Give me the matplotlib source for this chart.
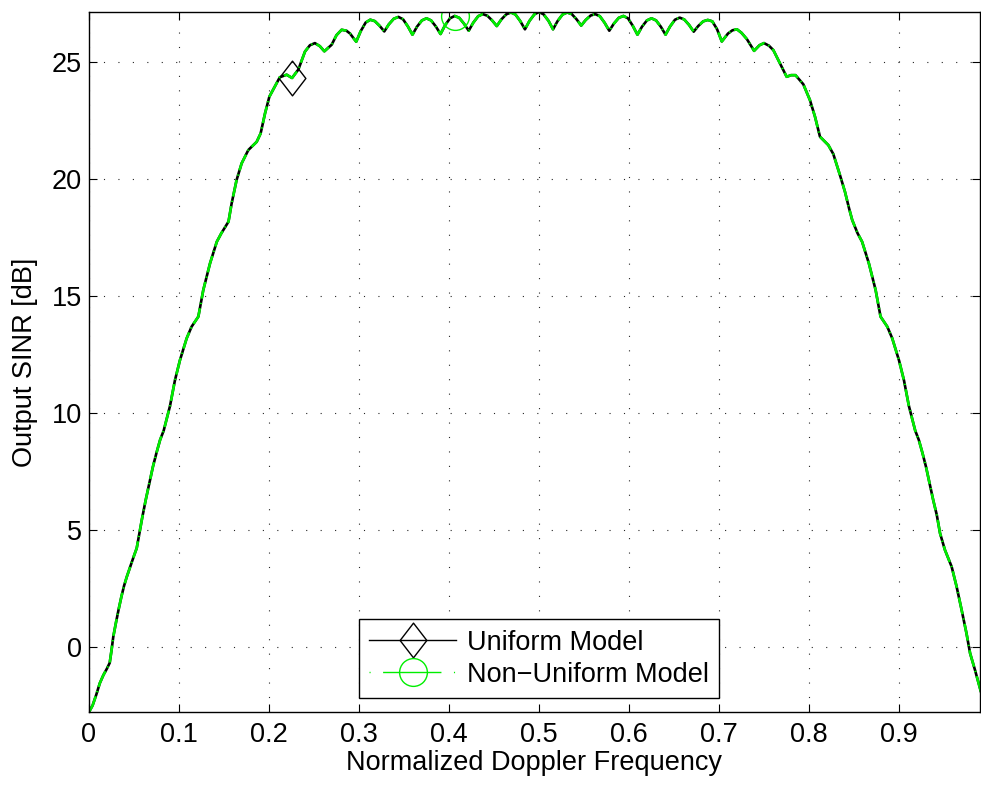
import numpy as np
import matplotlib
matplotlib.use('Agg')
import matplotlib.pyplot as plt
from matplotlib.path import Path

plt.rcParams['font.family'] = ['Liberation Sans', 'DejaVu Sans']

# Normalized Doppler frequency and output SINR [dB]
doppler = [
    0.000, 0.004, 0.008, 0.012, 0.016, 0.020, 0.023, 0.025, 0.027, 0.030,
    0.033, 0.036, 0.039, 0.042, 0.046, 0.050, 0.053, 0.056, 0.059, 0.063,
    0.067, 0.071, 0.075, 0.079, 0.083, 0.086, 0.090, 0.0955, 0.101, 0.1085,
    0.114, 0.1215, 0.127, 0.1345, 0.142, 0.147, 0.155, 0.1585, 0.164, 0.1696,
    0.177, 0.1863, 0.1907, 0.1956, 0.2004, 0.2050, 0.212, 0.2196, 0.2256, 0.2326,
    0.2400, 0.2455, 0.2510, 0.2565, 0.2615, 0.2696, 0.2750, 0.2807, 0.2860, 0.2900,
    0.2969, 0.3019, 0.3074, 0.3125, 0.3176, 0.3229, 0.3281, 0.3331, 0.3386, 0.3438,
    0.3489, 0.3542, 0.3594, 0.3644, 0.3699, 0.3750, 0.3801, 0.3854, 0.3906, 0.3956,
    0.4011, 0.4063, 0.4114, 0.4167, 0.4219, 0.4269, 0.4324, 0.4375, 0.4426, 0.4479,
    0.4531, 0.4581, 0.4636, 0.4688, 0.4739, 0.4792, 0.4844, 0.4894, 0.4949, 0.5000,
    0.5051, 0.5106, 0.5156, 0.5206, 0.5261, 0.5313, 0.5364, 0.5417, 0.5469, 0.5519,
    0.5574, 0.5625, 0.5676, 0.5729, 0.5781, 0.5831, 0.5886, 0.5938, 0.5989, 0.6042,
    0.6094, 0.6144, 0.6199, 0.6250, 0.6301, 0.6354, 0.6406, 0.6456, 0.6511, 0.6563,
    0.6614, 0.6667, 0.6719, 0.6769, 0.6824, 0.6875, 0.6926, 0.6979, 0.7031, 0.7100,
    0.7150, 0.7200, 0.7250, 0.7310, 0.7390, 0.7450, 0.7500, 0.7555, 0.7604, 0.7678,
    0.7752, 0.7800, 0.7850, 0.7937, 0.8010, 0.8067, 0.8122, 0.8215, 0.8270, 0.8344,
    0.8400, 0.8445, 0.8480, 0.8540, 0.8590, 0.8665, 0.8740, 0.8795, 0.8870, 0.8925,
    0.9000, 0.9055, 0.9110, 0.9150, 0.9180, 0.9220, 0.9260, 0.9300, 0.9340, 0.9380,
    0.9420, 0.9456, 0.9510, 0.9585, 0.9640, 0.9696, 0.9750, 0.9790, 0.9844, 0.9910,
]
sinr_uniform = [
    -2.78, -2.50, -2.05, -1.55, -1.20, -0.92, -0.68, -0.15, 0.44, 1.05,
    1.62, 2.15, 2.62, 3.00, 3.45, 3.90, 4.22, 4.85, 5.50, 6.28,
    7.00, 7.70, 8.30, 8.85, 9.25, 9.70, 10.30, 11.40, 12.25, 13.19,
    13.69, 14.12, 15.26, 16.40, 17.32, 17.68, 18.18, 18.96, 19.96, 20.67,
    21.24, 21.59, 21.95, 22.81, 23.52, 23.85, 24.35, 24.46, 24.32, 24.68,
    25.45, 25.72, 25.81, 25.68, 25.46, 25.74, 26.15, 26.38, 26.34, 26.22,
    25.87, 26.32, 26.69, 26.81, 26.75, 26.55, 26.31, 26.61, 26.85, 26.93,
    26.83, 26.53, 26.17, 26.51, 26.78, 26.87, 26.78, 26.52, 26.20, 26.57,
    26.87, 26.97, 26.89, 26.64, 26.34, 26.68, 26.96, 27.05, 26.98, 26.78,
    26.54, 26.82, 27.04, 27.12, 27.03, 26.75, 26.40, 26.76, 27.04, 27.14,
    27.04, 26.76, 26.40, 26.75, 27.03, 27.12, 27.05, 26.83, 26.56, 26.80,
    26.99, 27.05, 26.96, 26.68, 26.34, 26.64, 26.89, 26.97, 26.87, 26.55,
    26.17, 26.51, 26.78, 26.87, 26.78, 26.51, 26.17, 26.52, 26.81, 26.90,
    26.82, 26.59, 26.30, 26.54, 26.74, 26.80, 26.74, 26.40, 25.88, 26.22,
    26.36, 26.40, 26.25, 25.98, 25.48, 25.72, 25.81, 25.70, 25.51, 24.94,
    24.37, 24.44, 24.44, 24.05, 23.38, 22.66, 21.81, 21.45, 21.07, 20.17,
    19.45, 18.75, 18.25, 17.68, 17.32, 16.40, 15.26, 14.12, 13.69, 13.19,
    12.25, 11.40, 10.30, 9.70, 9.25, 8.85, 8.30, 7.70, 7.00, 6.28,
    5.64, 4.86, 4.15, 3.43, 2.58, 1.58, 0.58, -0.27, -0.98, -1.91,
]
# the non-uniform model lies on top of the uniform one
sinr_nonuniform = list(sinr_uniform)

uniform_marker_at = 0.2256
nonuniform_marker_at = 0.4063

x_ticks = [0, 0.1, 0.2, 0.3, 0.4, 0.5, 0.6, 0.7, 0.8, 0.9]
x_tick_labels = ['0', '0.1', '0.2', '0.3', '0.4', '0.5', '0.6', '0.7', '0.8', '0.9']
y_ticks = [0, 5, 10, 15, 20, 25]

fs = 19.5

fig = plt.figure(figsize=(9.81, 7.89), dpi=100)
ax = fig.add_axes([89 / 981, 1 - 712 / 789, 891 / 981, 700 / 789])

doppler = np.array(doppler)
i_u = int(np.argmin(np.abs(doppler - uniform_marker_at)))
i_n = int(np.argmin(np.abs(doppler - nonuniform_marker_at)))

# tall diamond like MATLAB's
diamond = Path([(0, 1), (0.77, 0), (0, -1), (-0.77, 0), (0, 1)],
               [Path.MOVETO, Path.LINETO, Path.LINETO, Path.LINETO, Path.CLOSEPOLY])

ax.plot(doppler, sinr_uniform, color='k', lw=1.9, label='Uniform Model',
        marker=diamond, markevery=[i_u], ms=25, mfc='none', mec='k', mew=1.0)
ax.plot(doppler, sinr_nonuniform, color='#00ee00', lw=1.9,
        linestyle=(0, (6.5, 1.6, 0.5, 1.6)), label='Non\u2212Uniform Model',
        marker='o', markevery=[i_n], ms=20, mfc='none', mec='#00ee00', mew=1.0)

ax.set_xlim(0, 0.99)
ax.set_ylim(-2.78, 27.14)
ax.set_xticks(x_ticks)
ax.set_xticklabels(x_tick_labels)
ax.set_yticks(y_ticks)
ax.tick_params(direction='in', length=6, width=0.8, top=True, right=True,
               labelsize=fs)
ax.tick_params(axis='x', pad=7)
ax.tick_params(axis='y', pad=5)
for s in ax.spines.values():
    s.set_linewidth(1.0)

ax.set_axisbelow(True)
ax.grid(True, color='0.15', linestyle=(0, (1, 12)), linewidth=0.8)

ax.set_xlabel('Normalized Doppler Frequency', fontsize=fs, labelpad=2)
ax.set_ylabel('Output SINR [dB]', fontsize=fs, labelpad=10)

leg = ax.legend(loc='lower center', bbox_to_anchor=(0.505, 0.02), fontsize=fs,
                frameon=True, fancybox=False, edgecolor='k', framealpha=1,
                handlelength=3.2, handletextpad=0.4, borderpad=0.38,
                labelspacing=0.22, borderaxespad=0, numpoints=1)
leg.get_frame().set_linewidth(1.0)
# legend lines are drawn thin in the reference
leg_lines = leg.get_lines()
for ln in leg_lines:
    ln.set_linewidth(1.0)
# dot - long dash - dot, as the short legend sample of '-.' shows
leg_lines[1].set_linestyle((0, (0.8, 9, 42, 9)))

fig.savefig('out.png', dpi=100)
